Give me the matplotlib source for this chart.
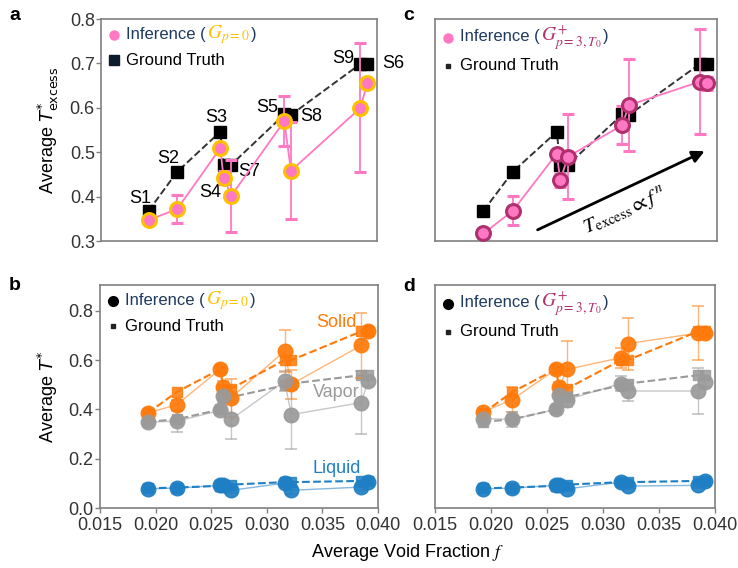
import numpy as np
import matplotlib
matplotlib.use("Agg")
import matplotlib.pyplot as plt
from matplotlib.lines import Line2D
from matplotlib.offsetbox import (AnchoredOffsetbox, DrawingArea, HPacker,
                                  TextArea, VPacker)

plt.rcParams["font.family"] = ["Liberation Sans", "DejaVu Sans"]
plt.rcParams["mathtext.fontset"] = "dejavusans"

NAVY = "#1f3a5f"
PINK = "#ff78c4"
GOLD = "#ffc000"
MAGENTA = "#b0306e"
ORANGE = "#ff7a0a"
GRAY = "#9a9a9a"
BLUE = "#1f7fc4"
SPINE = "#808080"

# samples sorted by void fraction
samples = ["S1", "S2", "S3", "S4", "S7", "S5", "S8", "S9", "S6"]
void_frac = [0.0193, 0.0219, 0.0258, 0.0261, 0.0268, 0.0316, 0.0322, 0.0385, 0.0391]

# panel a / c : excess temperature
gt_excess = [0.368, 0.456, 0.546, 0.472, 0.472, 0.585, 0.584, 0.699, 0.699]
inf_excess_a = [0.347, 0.372, 0.509, 0.443, 0.402, 0.570, 0.458, 0.600, 0.655]
err_excess_a = [0.008, 0.032, 0.008, 0.015, 0.081, 0.056, 0.109, 0.145, 0.010]
inf_excess_c = [0.317, 0.368, 0.497, 0.437, 0.490, 0.561, 0.606, 0.659, 0.655]
err_excess_c = [0.010, 0.033, 0.008, 0.015, 0.095, 0.042, 0.103, 0.119, 0.015]

# panel b / d : phase temperatures
gt_solid = [0.385, 0.471, 0.563, 0.485, 0.485, 0.600, 0.600, 0.717, 0.717]
gt_vapor = [0.350, 0.360, 0.400, 0.450, 0.450, 0.498, 0.505, 0.539, 0.539]
gt_liquid = [0.080, 0.083, 0.090, 0.095, 0.095, 0.105, 0.105, 0.110, 0.110]

inf_solid_b = [0.386, 0.419, 0.563, 0.491, 0.448, 0.637, 0.502, 0.660, 0.718]
err_solid_b = [0.010, 0.020, 0.010, 0.025, 0.077, 0.084, 0.060, 0.133, 0.015]
inf_vapor_b = [0.349, 0.352, 0.396, 0.455, 0.360, 0.515, 0.379, 0.428, 0.515]
err_vapor_b = [0.010, 0.043, 0.010, 0.025, 0.079, 0.040, 0.138, 0.129, 0.020]
inf_liquid_b = [0.078, 0.081, 0.092, 0.092, 0.072, 0.101, 0.072, 0.085, 0.106]
err_liquid_b = [0.005, 0.005, 0.005, 0.005, 0.010, 0.008, 0.015, 0.010, 0.008]

inf_solid_d = [0.390, 0.440, 0.563, 0.491, 0.563, 0.610, 0.667, 0.710, 0.710]
err_solid_d = [0.010, 0.050, 0.010, 0.020, 0.114, 0.040, 0.106, 0.110, 0.015]
inf_vapor_d = [0.363, 0.360, 0.400, 0.457, 0.440, 0.505, 0.475, 0.475, 0.511]
err_vapor_d = [0.010, 0.030, 0.010, 0.040, 0.030, 0.030, 0.040, 0.092, 0.020]
inf_liquid_d = [0.078, 0.081, 0.092, 0.092, 0.078, 0.105, 0.089, 0.092, 0.110]
err_liquid_d = [0.005, 0.005, 0.005, 0.005, 0.008, 0.008, 0.010, 0.010, 0.008]

# label offsets (pixels) of S-names around ground truth points in panel a
label_offsets = {"S1": (-8, 12), "S2": (-9, 13), "S3": (-4, 14), "S4": (-13, -28),
                 "S7": (18, -7), "S5": (-17, 7), "S8": (20, -2), "S9": (-17, 5),
                 "S6": (26, 0)}

fig = plt.figure(figsize=(7.38, 5.68), dpi=100)
ax_a = fig.add_axes([0.1369, 0.5757, 0.3740, 0.3908])
ax_c = fig.add_axes([0.5894, 0.5757, 0.3821, 0.3908])
ax_b = fig.add_axes([0.1355, 0.1056, 0.3767, 0.3926])
ax_d = fig.add_axes([0.5894, 0.1056, 0.3794, 0.3926])


def _style(ax, ylim, yticks, show_x, show_y):
    ax.set_xlim(0.015, 0.040)
    ax.set_ylim(*ylim)
    ax.set_yticks(yticks)
    ax.set_xticks(np.arange(0.015, 0.0401, 0.005))
    for sp in ax.spines.values():
        sp.set_color(SPINE)
        sp.set_linewidth(1.2)
    ax.tick_params(colors=SPINE, labelcolor="#333333", labelsize=13,
                   length=3.5, width=1, pad=1)
    ax.tick_params(axis="x", pad=3)
    ax.xaxis.set_major_formatter(matplotlib.ticker.FormatStrFormatter("%.3f"))
    ax.yaxis.set_major_formatter(matplotlib.ticker.FormatStrFormatter("%.1f"))
    if not show_x:
        ax.tick_params(bottom=False, labelbottom=False)
    if not show_y:
        ax.tick_params(left=False, labelleft=False)


def _legend(ax, marker_kw, gt_kw, gsym, gcolor):
    def handle(kw):
        da = DrawingArea(12, 12, 0, 0)
        da.add_artist(Line2D([6], [6], linestyle="none", **kw))
        return da
    tp = dict(fontsize=12)
    row1_txt = HPacker(children=[
        TextArea("Inference (", textprops=dict(color=NAVY, **tp)),
        TextArea(gsym, textprops=dict(color=gcolor, math_fontfamily="stix", fontsize=14)),
        TextArea(")", textprops=dict(color=NAVY, **tp)),
    ], align="baseline", pad=0, sep=1)
    row1 = HPacker(children=[handle(marker_kw), row1_txt], align="center", pad=0, sep=3)
    row2 = HPacker(children=[handle(gt_kw), TextArea("Ground Truth", textprops=dict(color="black", **tp))],
                   align="center", pad=0, sep=3)
    box = VPacker(children=[row1, row2], align="left", pad=0, sep=4)
    anchored = AnchoredOffsetbox(loc="upper left", child=box, pad=0, borderpad=0,
                                 frameon=False, bbox_to_anchor=(0.015, 0.98),
                                 bbox_transform=ax.transAxes)
    ax.add_artist(anchored)


# ── panel a ──
_style(ax_a, (0.3, 0.8), np.arange(0.3, 0.81, 0.1), False, True)
ax_a.plot(void_frac, gt_excess, "--", color="#333333", lw=1.4, zorder=2)
ax_a.plot(void_frac, gt_excess, "s", color="black", ms=8, zorder=3)
ax_a.errorbar(void_frac, inf_excess_a, yerr=err_excess_a, color=PINK, lw=1.3,
              capsize=4, capthick=1.5, marker="o", ms=10, mfc=PINK, mec=GOLD,
              mew=2.2, zorder=4)
for s, xf, yv in zip(samples, void_frac, gt_excess):
    ax_a.annotate(s, xy=(xf, yv), xytext=label_offsets[s], textcoords="offset pixels",
                  ha="center", va="center", fontsize=13, annotation_clip=False)
ax_a.set_ylabel(r"Average $T^{*}_{\mathrm{excess}}$", fontsize=13, labelpad=6)
_legend(ax_a, dict(marker="o", color=PINK, ms=6.5),
        dict(marker="s", color="#0d1b2a", ms=6.5), r"$G_{p=0}$", GOLD)

# ── panel c ──
_style(ax_c, (0.3, 0.8), np.arange(0.3, 0.81, 0.1), False, False)
ax_c.plot(void_frac, gt_excess, "--", color="#333333", lw=1.4, zorder=2)
ax_c.plot(void_frac, gt_excess, "s", color="black", ms=8, zorder=3)
ax_c.errorbar(void_frac, inf_excess_c, yerr=err_excess_c, color=PINK, lw=1.3,
              capsize=4, capthick=1.5, marker="o", ms=10, mfc=PINK, mec=MAGENTA,
              mew=2.2, zorder=4)
ax_c.annotate("", xy=(0.965, 0.41), xytext=(0.355, 0.045), xycoords="axes fraction",
              arrowprops=dict(arrowstyle="-|>", color="black", lw=2, mutation_scale=18))
ax_c.text(0.675, 0.135, r"$T_{\mathrm{excess}} \propto f^{\,n}$", transform=ax_c.transAxes,
          rotation=24, ha="center", va="center", fontsize=15, math_fontfamily="stix")
_legend(ax_c, dict(marker="o", color=PINK, ms=6.5),
        dict(marker="s", color="#222222", ms=2.5), r"$G^{+}_{p=3,T_0}$", MAGENTA)


# ── panels b, d ──
def phase_panel(ax, infs, errs):
    for gt, inf, err, c in zip([gt_solid, gt_vapor, gt_liquid], infs, errs,
                               [ORANGE, GRAY, BLUE]):
        ax.plot(void_frac, gt, "--", color=c, lw=1.5, zorder=2)
        ax.plot(void_frac, gt, "s", color=c, ms=7, alpha=0.85, zorder=2)
        ax.errorbar(void_frac, inf, yerr=err, color=c, lw=1.0, alpha=0.55,
                    capsize=4, capthick=1.3, zorder=3)
        ax.plot(void_frac, inf, "o", ms=10.5, color=c, mec=c, alpha=0.92, zorder=4)


_style(ax_b, (0, 0.905), np.arange(0, 0.81, 0.2), True, True)
phase_panel(ax_b, [inf_solid_b, inf_vapor_b, inf_liquid_b],
            [err_solid_b, err_vapor_b, err_liquid_b])
ax_b.text(0.0363, 0.751, "Solid", color=ORANGE, fontsize=13, ha="center", va="center")
ax_b.text(0.0362, 0.467, "Vapor", color=GRAY, fontsize=13, ha="center", va="center")
ax_b.text(0.0363, 0.162, "Liquid", color=BLUE, fontsize=13, ha="center", va="center")
ax_b.set_ylabel(r"Average $T^{*}$", fontsize=13, labelpad=6)
_legend(ax_b, dict(marker="o", color="black", ms=7),
        dict(marker="s", color="#222222", ms=2.5), r"$G_{p=0}$", GOLD)

_style(ax_d, (0, 0.905), np.arange(0, 0.81, 0.2), True, False)
phase_panel(ax_d, [inf_solid_d, inf_vapor_d, inf_liquid_d],
            [err_solid_d, err_vapor_d, err_liquid_d])
_legend(ax_d, dict(marker="o", color="black", ms=7),
        dict(marker="s", color="#222222", ms=2.5), r"$G^{+}_{p=3,T_0}$", MAGENTA)

fig.text(0.552, 0.027, r"Average Void Fraction $f$", ha="center", va="center",
         fontsize=13, math_fontfamily="stix")

for lab, x, y in [("a", 0.020, 0.973), ("c", 0.554, 0.973),
                  ("b", 0.020, 0.498), ("d", 0.554, 0.495)]:
    fig.text(x, y, lab, fontsize=14, fontweight="bold", ha="center", va="center")

fig.savefig("out.png", dpi=100)
